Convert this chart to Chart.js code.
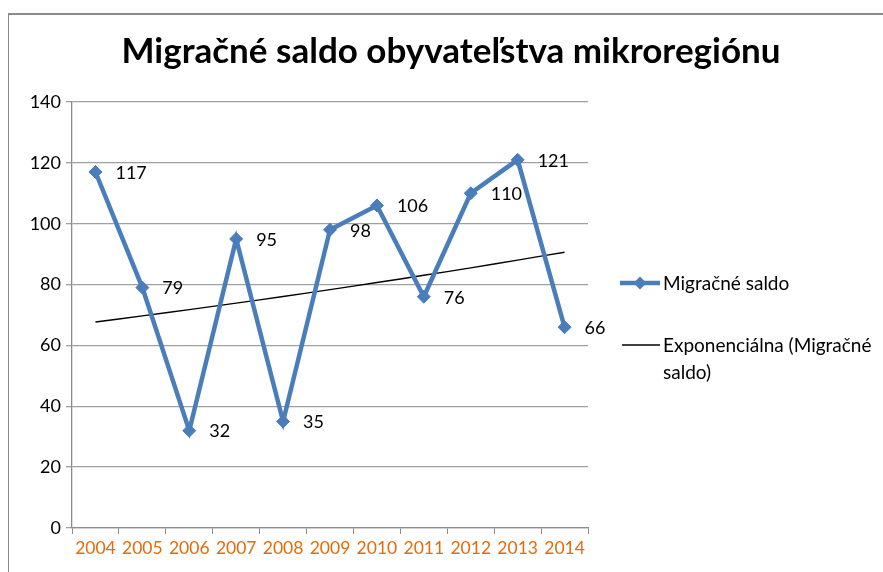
<!DOCTYPE html>
<html>
<head>
<meta charset="utf-8">
<script src="https://cdn.jsdelivr.net/npm/chart.js@4"></script>
<style>
  html, body { margin:0; padding:0; background:#fff; }
  #wrap { position:relative; width:883px; height:572px; overflow:hidden; }
  #frame { position:absolute; left:8px; top:13px; width:900px; height:600px; border-left:1.5px solid #8a8a8a; border-top:2px solid #8a8a8a; box-sizing:border-box; pointer-events:none; }
  canvas { position:absolute; left:0; top:0; }
</style>
</head>
<body>
<div id="wrap">
  <canvas id="c" width="883" height="572"></canvas>
  <div id="frame"></div>
</div>
<script>
const titleText = 'Migračné saldo obyvateľstva mikroregiónu';
const categories = ['2004','2005','2006','2007','2008','2009','2010','2011','2012','2013','2014'];
const saldo = [117, 79, 32, 95, 35, 98, 106, 76, 110, 121, 66];
const seriesLabel = 'Migračné saldo';
const trendLabelLines = ['Exponenciálna (Migračné', 'saldo)'];
const yTicks = [0, 20, 40, 60, 80, 100, 120, 140];

// Exponential trendline (least squares on ln y), as in the spreadsheet
function expTrend(vals) {
  const n = vals.length;
  const xs = vals.map((_, i) => i + 1);
  const ls = vals.map(v => Math.log(v));
  const mx = xs.reduce((a, b) => a + b, 0) / n;
  const ml = ls.reduce((a, b) => a + b, 0) / n;
  let sxy = 0, sxx = 0;
  for (let i = 0; i < n; i++) { sxy += (xs[i] - mx) * (ls[i] - ml); sxx += (xs[i] - mx) ** 2; }
  const b = sxy / sxx, a = ml - b * mx;
  return xs.map(x => Math.exp(a + b * x));
}
const trend = expTrend(saldo);

const BLUE = '#4A7EBB';
const FONT = 'Lato, "Open Sans", sans-serif';

const overlay = {
  id: 'overlay',
  afterDraw(chart) {
    const ctx = chart.ctx;
    ctx.save();
    // title
    ctx.fillStyle = '#000';
    ctx.font = 'bold 35px ' + FONT;
    ctx.textAlign = 'center';
    ctx.textBaseline = 'alphabetic';
    ctx.fillText(titleText, 451, 63);
    // data labels
    const meta = chart.getDatasetMeta(0);
    ctx.font = '18px ' + FONT;
    ctx.textAlign = 'left';
    ctx.textBaseline = 'middle';
    meta.data.forEach((pt, i) => {
      ctx.fillText(String(saldo[i]), pt.x + 20, pt.y + 1);
    });
    // legend
    const lx1 = 620, lx2 = 660, tx = 663;
    ctx.strokeStyle = BLUE; ctx.lineWidth = 4.5;
    ctx.beginPath(); ctx.moveTo(lx1, 283); ctx.lineTo(lx2, 283); ctx.stroke();
    ctx.fillStyle = BLUE;
    ctx.beginPath(); ctx.moveTo(640-6.5, 283); ctx.lineTo(640, 283-6.5); ctx.lineTo(640+6.5, 283); ctx.lineTo(640, 283+6.5); ctx.closePath(); ctx.fill();
    ctx.strokeStyle = '#000'; ctx.lineWidth = 1.4;
    ctx.beginPath(); ctx.moveTo(622, 345); ctx.lineTo(lx2, 345); ctx.stroke();
    ctx.fillStyle = '#000';
    ctx.font = '19px ' + FONT;
    ctx.fillText(seriesLabel, tx, 284);
    ctx.fillText(trendLabelLines[0], tx, 346);
    ctx.fillText(trendLabelLines[1], tx, 373);
    ctx.restore();
  }
};

new Chart(document.getElementById('c'), {
  type: 'line',
  data: {
    labels: categories,
    datasets: [
      {
        label: seriesLabel,
        data: saldo,
        borderColor: BLUE,
        backgroundColor: BLUE,
        borderWidth: 4.5,
        pointStyle: 'rectRot',
        pointRadius: 6.5,
        pointBorderWidth: 1,
        pointBackgroundColor: BLUE,
        pointBorderColor: BLUE,
        tension: 0,
        order: 1
      },
      {
        label: 'Exponenciálna (Migračné saldo)',
        data: trend,
        borderColor: '#000',
        borderWidth: 1.4,
        pointRadius: 0,
        tension: 0.4,
        order: 2
      }
    ]
  },
  options: {
    responsive: false,
    animation: false,
    events: [],
    layout: { padding: { left: 20, right: 295, top: 102, bottom: 9 } },
    plugins: { legend: { display: false }, title: { display: false }, tooltip: { enabled: false } },
    scales: {
      x: {
        offset: true,
        grid: { display: true, drawOnChartArea: false, drawTicks: true, tickLength: 6, offset: true, color: '#8c8c8c' },
        border: { display: true, color: '#8c8c8c', width: 1.3 },
        ticks: { color: '#E46C0A', font: { family: FONT, size: 17.5 }, padding: 4, maxRotation: 0, autoSkip: false }
      },
      y: {
        min: 0, max: 140,
        afterBuildTicks(axis) { axis.ticks = yTicks.map(v => ({ value: v })); },
        afterFit(axis) { axis.width = 52; },
        grid: { color: '#a0a0a0', lineWidth: 1.3, drawTicks: true, tickLength: 6 },
        border: { display: true, color: '#8c8c8c', width: 1.3 },
        ticks: { color: '#000', font: { family: FONT, size: 18 }, padding: 5 }
      }
    }
  },
  plugins: [overlay]
});
</script>
</body>
</html>
